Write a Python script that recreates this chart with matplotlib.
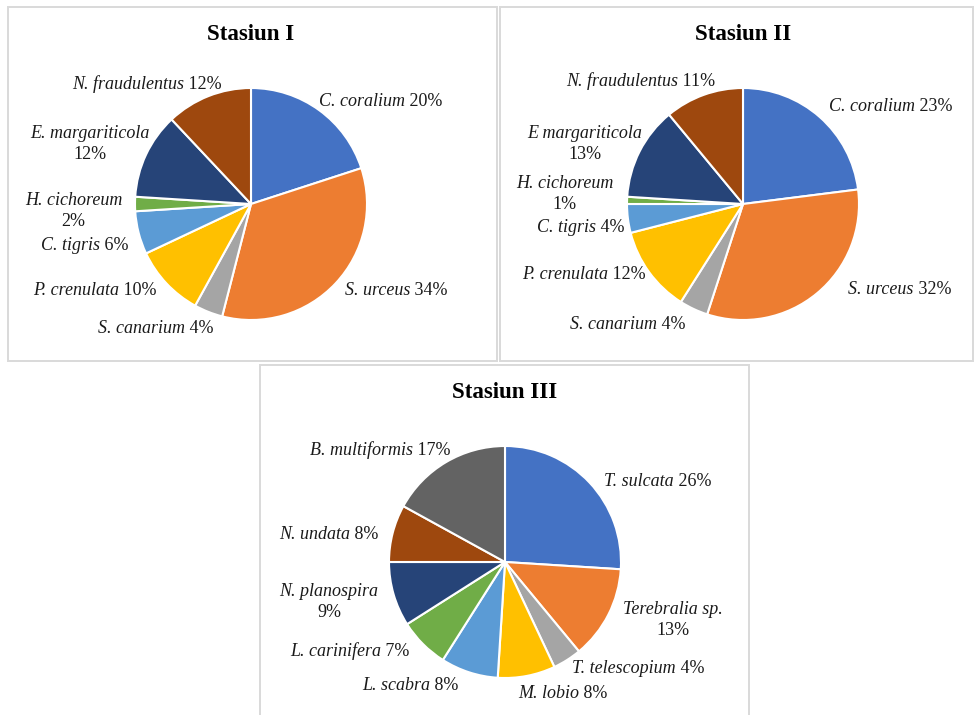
import numpy as np
import matplotlib
matplotlib.use("Agg")
import matplotlib.pyplot as plt
from matplotlib.patches import Rectangle

plt.rcParams['font.family'] = ['Liberation Serif', 'DejaVu Serif']

# ---- data ----
titles = ["Stasiun I", "Stasiun II", "Stasiun III"]

species_1 = ["C. coralium", "S. urceus", "S. canarium", "P. crenulata", "C. tigris",
             "H. cichoreum", "E. margariticola", "N. fraudulentus"]
values_1 = [20, 34, 4, 10, 6, 2, 12, 12]

species_2 = ["C. coralium", "S. urceus", "S. canarium", "P. crenulata", "C. tigris",
             "H. cichoreum", "E margariticola", "N. fraudulentus"]
values_2 = [23, 32, 4, 12, 4, 1, 13, 11]

species_3 = ["T. sulcata", "Terebralia sp.", "T. telescopium", "M. lobio", "L. scabra",
             "L. carinifera", "N. planospira", "N. undata", "B. multiformis"]
values_3 = [26, 13, 4, 8, 8, 7, 9, 8, 17]

# labels that break onto two lines
two_line = {"E. margariticola", "E margariticola", "H. cichoreum", "Terebralia sp.", "N. planospira"}

# ---- styling / layout ----
colors_8 = ["#4472C4", "#ED7D31", "#A5A5A5", "#FFC000", "#5B9BD5", "#70AD47", "#264478", "#9E480E"]
colors_9 = colors_8 + ["#636363"]

# small pixel nudges of label blocks (dx right, dy down) from the default 1.1r anchor
nudge_1 = [(-7, -1), (1, -3), (9, 4), (-1, -3), (1, 8), (-1, 5), (14, -8), (18, -3)]
nudge_2 = [(2, -4), (24, -15), (-3, 3), (6, -7), (8, 6), (-2, -8), (13, -4), (15, -4)]
nudge_3 = [(6, 5), (4, -2), (-1, -3), (-11, 4), (-7, 0), (-5, -3), (-4, 2), (-3, 2), (10, -4)]

LABEL_FS = 13
TXT = "#1a1a1a"

W, H = 975, 715
fig = plt.figure(figsize=(W / 100, H / 100), dpi=100)
fig.patch.set_facecolor("white")


def px_rect(x0, y0, x1, y1):
    return (x0 / W, 1 - y1 / H, (x1 - x0) / W, (y1 - y0) / H)


def border(x0, y0, x1, y1):
    l, b, w, h = px_rect(x0, y0, x1, y1)
    fig.patches.append(Rectangle((l, b), w, h, transform=fig.transFigure,
                                 fill=False, edgecolor="#D9D9D9", linewidth=1.4))


def place_label(ax, anchor, nudge, side, name, val):
    dx, dy = nudge
    pct = f"{val}%"
    if name in two_line:
        t1 = ax.annotate(name, xy=anchor, xytext=(dx, -dy), textcoords="offset pixels",
                         ha=side, va="bottom", style="italic", fontsize=LABEL_FS,
                         color=TXT, annotation_clip=False)
        ax.annotate(pct, xy=(0.5, 0.0), xycoords=t1, xytext=(0, -4),
                    textcoords="offset pixels", ha="center", va="top",
                    fontsize=LABEL_FS, color=TXT, annotation_clip=False)
    elif side == "left":
        t1 = ax.annotate(name, xy=anchor, xytext=(dx, -dy - 2), textcoords="offset pixels",
                         ha="left", va="center", style="italic", fontsize=LABEL_FS,
                         color=TXT, annotation_clip=False)
        ax.annotate(" " + pct, xy=(1, 0), xycoords=t1, ha="left", va="bottom",
                    fontsize=LABEL_FS, color=TXT, annotation_clip=False)
    else:
        t2 = ax.annotate(" " + pct, xy=anchor, xytext=(dx, -dy - 2), textcoords="offset pixels",
                         ha="right", va="center", fontsize=LABEL_FS, color=TXT,
                         annotation_clip=False)
        ax.annotate(name, xy=(0, 0), xycoords=t2, ha="right", va="bottom",
                    style="italic", fontsize=LABEL_FS, color=TXT, annotation_clip=False)


def panel(cx, cy, R, names, vals, cols, nudges, title, ty):
    ax = fig.add_axes(px_rect(cx - R, cy - R, cx + R, cy + R))
    wedges, _ = ax.pie(vals, colors=cols, startangle=90, counterclock=False,
                       wedgeprops=dict(edgecolor="white", linewidth=1.5))
    ax.set_xlim(-1, 1)
    ax.set_ylim(-1, 1)
    ax.set_aspect("equal")
    ax.axis("off")
    for w, n, v, nd in zip(wedges, names, vals, nudges):
        ang = np.deg2rad((w.theta1 + w.theta2) / 2)
        anchor = (1.1 * np.cos(ang), 1.1 * np.sin(ang))
        side = "left" if np.cos(ang) > 0 else "right"
        place_label(ax, anchor, nd, side, n, v)
    fig.text(cx / W, 1 - ty / H, title, ha="center", va="center",
             fontsize=16.5, fontweight="bold", color="black")


border(8, 7, 497, 361)
border(500, 7, 973, 361)
border(260, 365, 749, 716)

panel(251, 204, 116, species_1, values_1, colors_8, nudge_1, titles[0], 35)
panel(743, 204, 116, species_2, values_2, colors_8, nudge_2, titles[1], 35)
panel(505, 562, 116, species_3, values_3, colors_9, nudge_3, titles[2], 392)

fig.savefig("out.png", dpi=100)
